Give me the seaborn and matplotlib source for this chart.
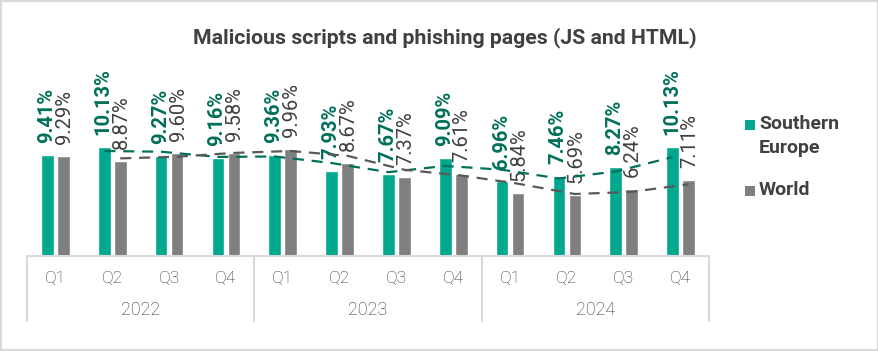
import numpy as np
import pandas as pd
import matplotlib
matplotlib.use("Agg")
import matplotlib.pyplot as plt
from matplotlib.patches import Rectangle
import seaborn as sns

years = ["2022", "2023", "2024"]
quarters = ["Q1", "Q2", "Q3", "Q4"]
series_names = ["Southern Europe", "World"]
legend_labels = ["Southern\nEurope", "World"]
southern_europe = [9.41, 10.13, 9.27, 9.16, 9.36, 7.93, 7.67, 9.09, 6.96, 7.46, 8.27, 10.13]
world = [9.29, 8.87, 9.60, 9.58, 9.96, 8.67, 7.37, 7.61, 5.84, 5.69, 6.24, 7.11]

TEAL = "#00A88E"
GRAY = "#7F7F7F"
TEAL_DARK = "#00705A"
TEXT = "#404040"
LINE_GRAY = "#D9D9D9"

periods = [f"{y} {q}" for y in years for q in quarters]
df = pd.DataFrame({
    "period": periods * 2,
    "series": [series_names[0]] * len(periods) + [series_names[1]] * len(periods),
    "value": southern_europe + world,
})

sns.set_theme(style="white")
plt.rcParams["font.family"] = ["Roboto", "DejaVu Sans"]

fig = plt.figure(figsize=(8.79, 3.51), dpi=100)
ax = fig.add_axes([27 / 879, 1 - 256 / 351, 682 / 879, 215 / 351])

sns.barplot(data=df, x="period", y="value", hue="series", order=periods,
            hue_order=series_names, palette=[TEAL, GRAY], width=0.56, gap=0.2,
            saturation=1, ax=ax, legend=False)

ax.set_ylim(0, 20)
ax.set_xlim(-0.5, len(periods) - 0.5)
ax.set_yticks([])
ax.set_ylabel("")
ax.set_xlabel("")
for s in ["top", "left", "right"]:
    ax.spines[s].set_visible(False)
ax.spines["bottom"].set_color(LINE_GRAY)
ax.spines["bottom"].set_linewidth(1.5)

x = np.arange(len(periods))
ax.set_xticks(x)
ax.set_xticklabels(quarters * len(years), fontsize=12.5, color="#333333", fontweight="light")
ax.tick_params(axis="x", length=0, pad=11)

# data labels
off = 0.14
for i, v in enumerate(southern_europe):
    ax.annotate(f"{v:.2f}%", (i - off, v), xytext=(-1, 12), textcoords="offset pixels",
                rotation=90, ha="center", va="bottom", fontsize=14.5,
                fontweight="bold", color=TEAL_DARK)
for i, v in enumerate(world):
    ax.annotate(f"{v:.2f}%", (i + off, v), xytext=(1, 12), textcoords="offset pixels",
                rotation=90, ha="center", va="bottom", fontsize=14.5,
                fontweight="normal", color=TEXT)

# 2-period moving average trendlines
se_ma = pd.Series(southern_europe).rolling(2).mean()
w_ma = pd.Series(world).rolling(2).mean()
ax.plot(x - off, se_ma, color=TEAL_DARK, lw=1.6, ls=(0, (5, 3.5)), zorder=5)
ax.plot(x + off, w_ma, color="#595959", lw=1.6, ls=(0, (5, 3.5)), zorder=5)

# year grouping
trans = ax.get_xaxis_transform()
n_q = len(quarters)
for k in range(len(years) + 1):
    xb = k * n_q - 0.5
    ax.plot([xb, xb], [0, -65 / 215], transform=trans, color=LINE_GRAY,
            lw=1.5, clip_on=False)
for k, y in enumerate(years):
    ax.text(k * n_q + (n_q - 1) / 2, -54 / 215, y, transform=trans, ha="center",
            va="center", fontsize=13, color="#333333", fontweight="light")

fig.text(445 / 879, 1 - 38 / 351, "Malicious scripts and phishing pages (JS and HTML)",
         ha="center", va="center", fontsize=15.3, fontweight="bold", color=TEXT)

# legend (manual, square aligned with first text line)
W, H = 879, 351
for (col, lab, ytop) in [(TEAL, legend_labels[0], 120), (GRAY, legend_labels[1], 186)]:
    fig.patches.append(Rectangle((745 / W, 1 - (ytop + 10) / H), 10 / W, 10 / H,
                                 transform=fig.transFigure, facecolor=col,
                                 edgecolor="none"))
    fig.text(759 / W, 1 - (ytop - 5) / H, lab, ha="left", va="top", fontsize=14,
             fontweight="bold", color=TEXT, linespacing=1.42)

fig.patches.append(Rectangle((0, 0), 1, 1, transform=fig.transFigure, fill=False,
                             edgecolor=LINE_GRAY, lw=3, zorder=10))

fig.savefig("out.png", dpi=100)
